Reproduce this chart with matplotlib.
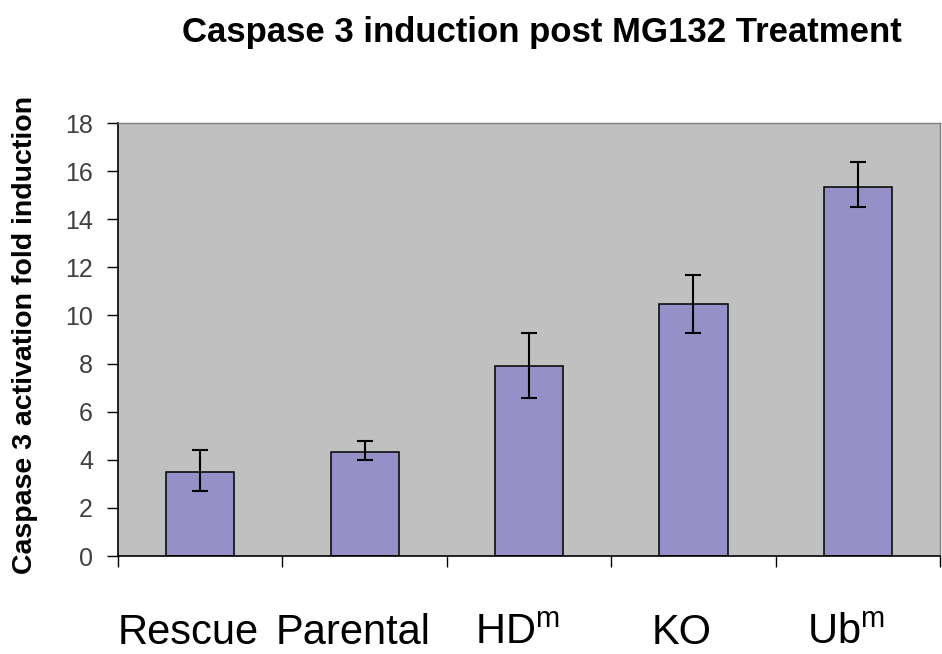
import numpy as np
import matplotlib
matplotlib.use("Agg")
import matplotlib.pyplot as plt
import matplotlib.transforms as mtransforms

plt.rcParams['font.family'] = ['Liberation Sans', 'DejaVu Sans']

# fold induction of caspase 3 per cell line, with lower/upper error
groups = ['Rescue', 'Parental', r'HD$^\mathregular{m}$', 'KO', r'Ub$^\mathregular{m}$']
fold = [3.51, 4.34, 7.92, 10.48, 15.36]
err_low = [0.79, 0.36, 1.36, 1.19, 0.86]
err_high = [0.90, 0.43, 1.37, 1.20, 1.02]
yticks = [0, 2, 4, 6, 8, 10, 12, 14, 16, 18]

fig = plt.figure(figsize=(9.42, 6.54), dpi=100)
ax = fig.add_axes([0.1253, 0.1498, 0.8726, 0.6621])
ax.set_facecolor('#C0C0C0')

x = np.arange(len(groups))
ax.bar(x, fold, width=0.415, color='#9591C8', edgecolor='black', linewidth=1.1, zorder=2)
ax.errorbar(x, fold, yerr=[err_low, err_high], fmt='none', ecolor='black',
            elinewidth=1.5, capsize=6, capthick=1.5, zorder=3)

ax.set_xlim(-0.5, len(groups) - 0.5)
ax.set_ylim(0, 18)
ax.set_yticks(yticks)
ax.tick_params(axis='y', direction='out', length=8, width=1, pad=10,
               labelsize=18, labelcolor='#404040')

# category boundary ticks below the axis, labels centred on bars
ax.set_xticks(np.arange(len(groups) + 1) - 0.5)
ax.set_xticklabels([])
ax.tick_params(axis='x', direction='out', length=8, width=1)
shift = mtransforms.ScaledTranslation(-12 / 100, 0, fig.dpi_scale_trans)
for i, name in enumerate(groups):
    ax.text(i, -0.177, name, transform=ax.get_xaxis_transform() + shift,
            ha='center', va='center', fontsize=30, color='black')

for side in ['top', 'right']:
    ax.spines[side].set_color('#808080')
    ax.spines[side].set_linewidth(1)
for side in ['left', 'bottom']:
    ax.spines[side].set_color('black')
    ax.spines[side].set_linewidth(1.2)

ax.set_ylabel('Caspase 3 activation fold induction', fontsize=20.5,
              fontweight='bold')
ax.yaxis.set_label_coords(-0.097, 0.51)

fig.text(0.575, 0.951, 'Caspase 3 induction post MG132 Treatment', ha='center',
         va='center', fontsize=25, fontweight='bold')

fig.savefig('out.png', dpi=100, facecolor='white')
